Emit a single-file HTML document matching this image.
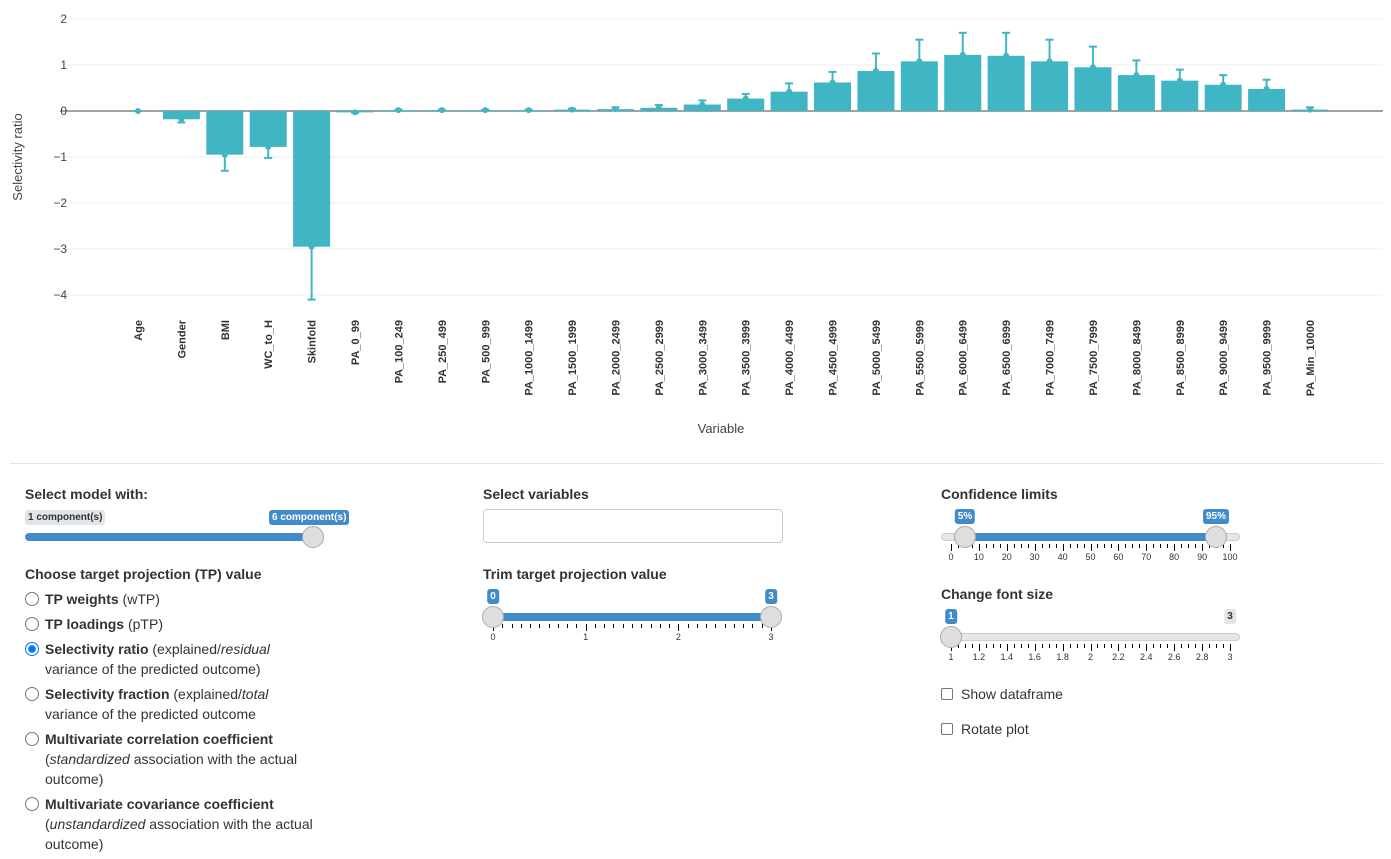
<!DOCTYPE html>
<html><head><meta charset="utf-8">
<style>
body{margin:0;width:1391px;height:859px;background:#fff;font-family:"Liberation Sans",Arial,sans-serif;color:#333;position:relative;overflow:hidden}
.abs{position:absolute}
.lbl{font-weight:bold;font-size:14px;color:#333}
.radio{position:absolute;left:25px;font-size:14px;line-height:20px}
.radio .c{position:absolute;left:0;top:3px;width:12px;height:12px;border:1px solid #767676;border-radius:50%;background:#fff}
.radio .t{position:absolute;left:20px;white-space:nowrap}
.track{position:absolute;height:8px;border-radius:4px;background:#e6e6e6;border:1px solid #ccc;box-sizing:border-box}
.bar{position:absolute;height:8px;background:#428bca;border-radius:4px}
.thumb{position:absolute;width:22px;height:22px;border-radius:50%;background:#dedede;border:1px solid #aaa;box-sizing:border-box}
.tag{position:absolute;font-size:10px;font-weight:bold;color:#fff;background:#428bca;border-radius:3px;padding:1px 3px;line-height:13px;white-space:nowrap}
.tag.g{background:#e1e4e9;color:#333}
.tick{position:absolute;width:1px;background:#000}
.tl{position:absolute;font-size:9px;color:#333;transform:translateX(-50%)}
.cb{position:absolute;width:12px;height:12px;border:1px solid #767676;border-radius:2px;box-sizing:border-box}
</style></head><body>
<svg id="chart" class="abs" style="left:0;top:0" width="1391" height="460"></svg>
<div class="abs" style="left:10px;top:463px;width:1373px;height:1px;background:#e5e5e5"></div>

<div class="abs lbl" style="left:25px;top:486px">Select model with:</div>
<div class="tag g" style="left:25px;top:510px">1 component(s)</div>
<div class="tag" style="left:269px;top:510px">6 component(s)</div>
<div class="bar" style="left:25px;top:533px;width:290px"></div>
<div class="thumb" style="left:302px;top:526px"></div>

<div class="abs lbl" style="left:25px;top:566px">Choose target projection (TP) value</div>
<div class="radio" style="top:589px"><span class="c"></span><span class="t"><b>TP weights</b> (wTP)</span></div>
<div class="radio" style="top:614px"><span class="c"></span><span class="t"><b>TP loadings</b> (pTP)</span></div>
<div class="radio" style="top:639px"><span class="c" style="border-color:#0075ff;background:radial-gradient(circle,#0075ff 3.5px,#fff 4px)"></span><span class="t"><b>Selectivity ratio</b> (explained/<i>residual</i><br>variance of the predicted outcome)</span></div>
<div class="radio" style="top:684px"><span class="c"></span><span class="t"><b>Selectivity fraction</b> (explained/<i>total</i><br>variance of the predicted outcome</span></div>
<div class="radio" style="top:729px"><span class="c"></span><span class="t"><b>Multivariate correlation coefficient</b><br>(<i>standardized</i> association with the actual<br>outcome)</span></div>
<div class="radio" style="top:794px"><span class="c"></span><span class="t"><b>Multivariate covariance coefficient</b><br>(<i>unstandardized</i> association with the actual<br>outcome)</span></div>

<div class="abs lbl" style="left:483px;top:486px">Select variables</div>
<div class="abs" style="left:483px;top:509px;width:300px;height:34px;border:1px solid #ccc;border-radius:4px;box-sizing:border-box"></div>
<div class="abs lbl" style="left:483px;top:566px">Trim target projection value</div>
<div id="trim"></div>

<div class="abs lbl" style="left:941px;top:486px">Confidence limits</div>
<div class="abs lbl" style="left:941px;top:586px">Change font size</div>
<div class="cb" style="left:941px;top:688px"></div>
<div class="abs" style="left:961px;top:686px;font-size:14px">Show dataframe</div>
<div class="cb" style="left:941px;top:723px"></div>
<div class="abs" style="left:961px;top:721px;font-size:14px">Rotate plot</div>

<script>
const categories=["Age","Gender","BMI","WC_to_H","Skinfold","PA_0_99","PA_100_249","PA_250_499","PA_500_999","PA_1000_1499","PA_1500_1999","PA_2000_2499","PA_2500_2999","PA_3000_3499","PA_3500_3999","PA_4000_4499","PA_4500_4999","PA_5000_5499","PA_5500_5999","PA_6000_6499","PA_6500_6999","PA_7000_7499","PA_7500_7999","PA_8000_8499","PA_8500_8999","PA_9000_9499","PA_9500_9999","PA_Min_10000"];
const values=[0,-0.18,-0.95,-0.78,-2.95,-0.03,0.02,0.02,0.02,0.02,0.03,0.04,0.07,0.14,0.27,0.42,0.62,0.87,1.08,1.22,1.2,1.08,0.95,0.78,0.66,0.57,0.48,0.03];
const errEnds=[0,-0.25,-1.3,-1.02,-4.1,-0.04,0.03,0.03,0.03,0.03,0.05,0.08,0.13,0.23,0.37,0.6,0.85,1.25,1.55,1.7,1.7,1.55,1.4,1.1,0.9,0.78,0.68,0.08];
const yTicks=[2,1,0,-1,-2,-3,-4];
const NS="http://www.w3.org/2000/svg";
const svg=document.getElementById('chart');
const x0=138,step=(1310-138)/27;
function xs(i){return x0+i*step}
function ys(v){return 111-v*46}
function mk(t,a){const e=document.createElementNS(NS,t);for(const k in a)e.setAttribute(k,a[k]);svg.appendChild(e);return e}
yTicks.forEach(t=>{
  const g=mk('line',{x1:60,x2:1383,y1:ys(t),y2:ys(t),stroke:t===0?'#444':'#eee','stroke-width':1});
  
  
  const l=mk('text',{x:67,y:ys(t)+4,'text-anchor':'end','font-size':12,fill:'#444'});
  l.textContent=t<0?'\u2212'+(-t):t;
  
  
});
categories.forEach((c,i)=>{
  const v=values[i],x=xs(i),w=37;
  const r=mk('rect',{x:x-w/2,y:Math.min(ys(v),ys(0)),width:w,height:Math.abs(ys(v)-ys(0)),fill:'#40b6c4'});
  
  
  const e=mk('line',{x1:x,x2:x,y1:ys(v),y2:ys(errEnds[i]),stroke:'#40b6c4','stroke-width':2});
  
  
  const cap=mk('line',{x1:x-4,x2:x+4,y1:ys(errEnds[i]),y2:ys(errEnds[i]),stroke:'#40b6c4','stroke-width':2});
  
  
  const d=mk('circle',{cx:x,cy:ys(v),r:3,fill:'#40b6c4'});
  
  
  const t=mk('text',{x:x+4,y:320,'text-anchor':'end','font-size':11,'font-weight':'bold',fill:'#333',transform:`rotate(-90 ${x+4} 320)`});
  t.textContent=c;
  
  
});
const xt=mk('text',{x:721,y:433,'text-anchor':'middle','font-size':13,fill:'#444'});xt.textContent='Variable';


const yt=mk('text',{x:22,y:157,'text-anchor':'middle','font-size':13,fill:'#444',transform:'rotate(-90 22 157)'});yt.textContent='Selectivity ratio';



function slider(name,left,width,top,lo,hi,labels,minor,fill,handles,tags,grayTag){
  const tr=document.createElement('div');tr.className='track';
  tr.style.cssText=`left:${left-10}px;top:${top}px;width:${width+20}px`;
  
  
  document.body.appendChild(tr);
  if(fill){const b=document.createElement('div');b.className='bar';b.style.cssText=`left:${fill[0]}px;top:${top}px;width:${fill[1]-fill[0]}px`;
    
    
    document.body.appendChild(b);}
  const n=labels.length-1;
  for(let k=0;k<=n*minor;k++){const x=left+width*k/(n*minor);const major=k%minor===0;
    const t=document.createElement('div');t.className='tick';t.style.cssText=`left:${x}px;top:${top+11}px;height:${major?7:4}px`;
    
    
    document.body.appendChild(t);}
  labels.forEach((l,k)=>{const d=document.createElement('div');d.className='tl';d.textContent=l;d.style.cssText=`left:${left+width*k/n}px;top:${top+19}px`;
    
    
    document.body.appendChild(d);});
  handles.forEach((h,k)=>{const t=document.createElement('div');t.className='thumb';t.style.cssText=`left:${h-11}px;top:${top-7}px`;
    
    
    document.body.appendChild(t);
    const g=document.createElement('div');g.className='tag';g.textContent=tags[k];g.style.cssText=`left:${h}px;top:${top-24}px;transform:translateX(-50%)`;
    
    
    document.body.appendChild(g);});
  if(grayTag){const g=document.createElement('div');g.className='tag g';g.textContent=grayTag;g.style.cssText=`left:${left+width}px;top:${top-24}px;transform:translateX(-50%)`;
    
    
    document.body.appendChild(g);}
}
slider('trim',493,278,613,0,3,['0','1','2','3'],10,[483,781],[493,771],['0','3']);
slider('confidence',951,279,533,0,100,['0','10','20','30','40','50','60','70','80','90','100'],4,[965,1215],[965,1216],['5%','95%']);
slider('font-size',951,279,633,1,3,['1','1.2','1.4','1.6','1.8','2','2.2','2.4','2.6','2.8','3'],4,null,[951],['1'],'3');
</script>
</body></html>
